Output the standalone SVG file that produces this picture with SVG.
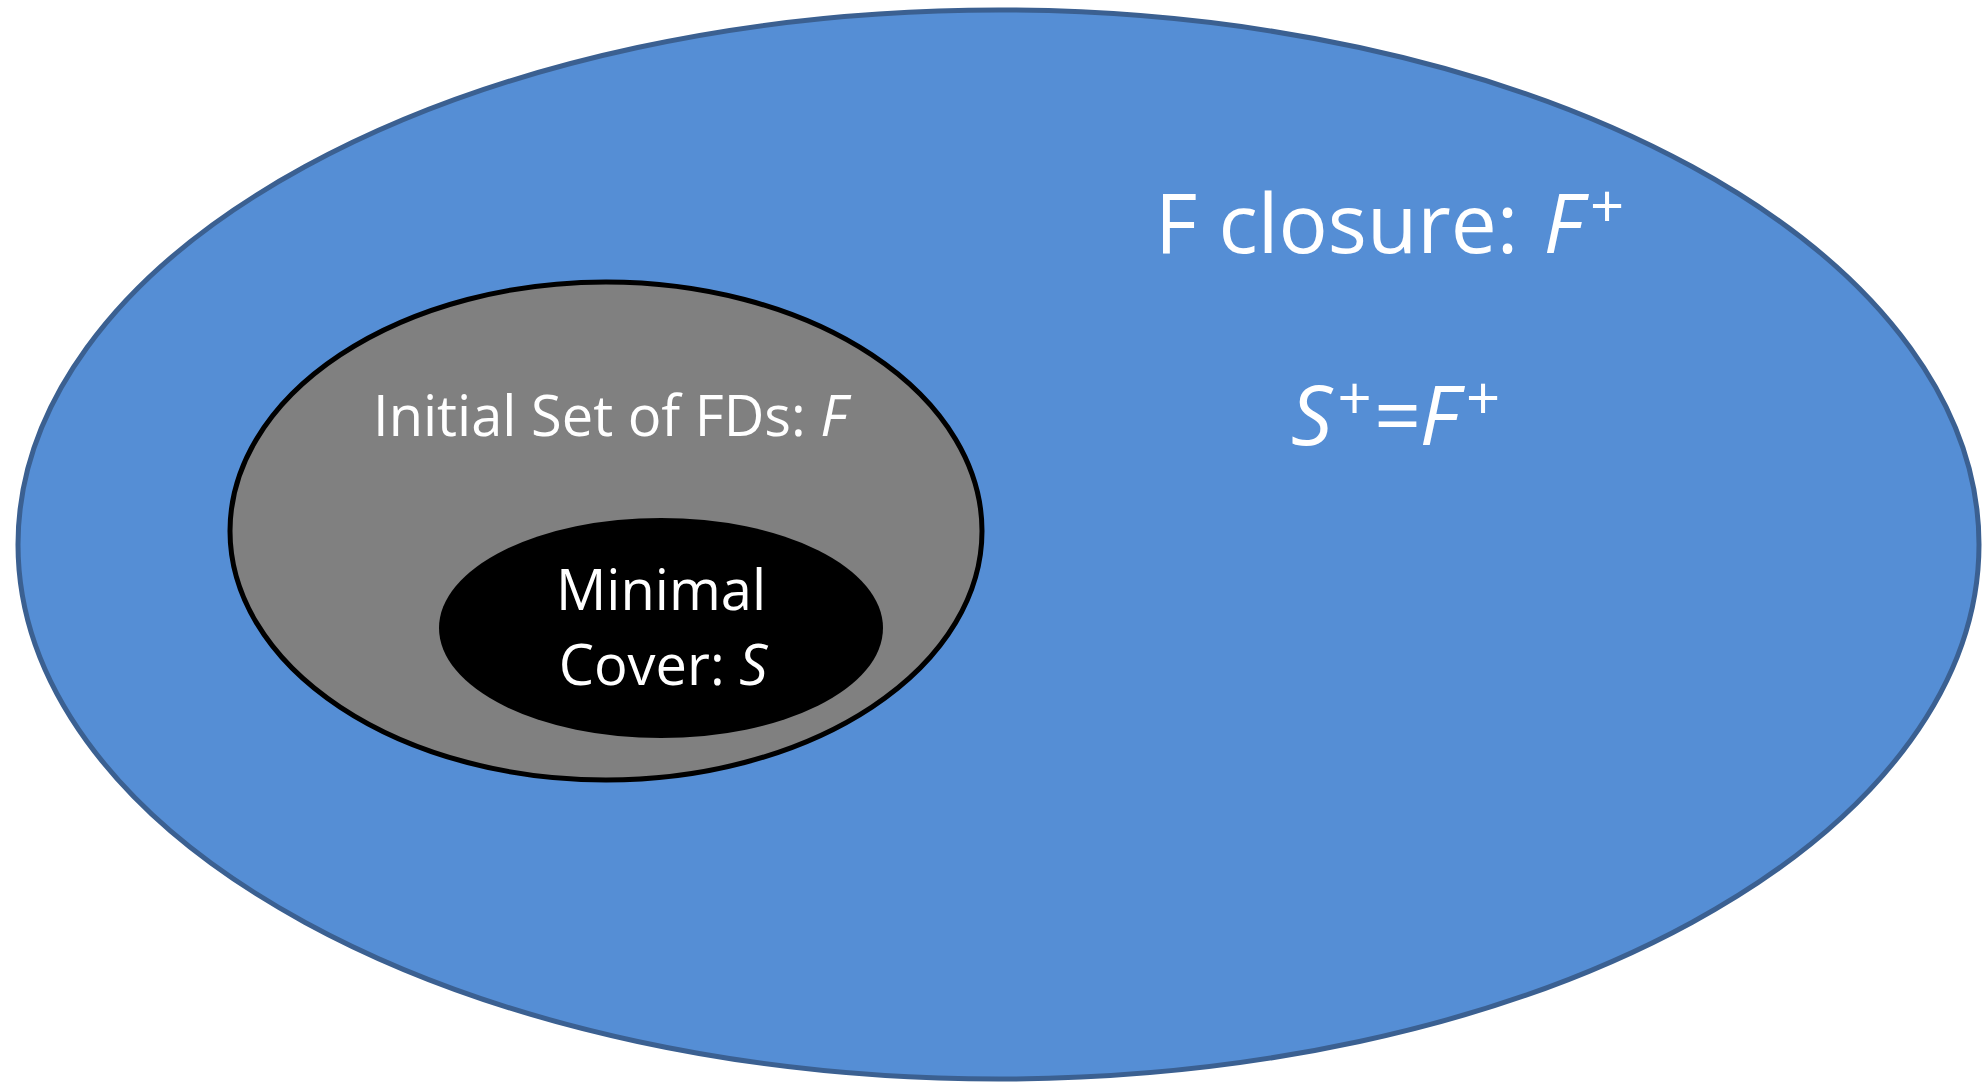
<svg xmlns="http://www.w3.org/2000/svg" width="1982" height="1084" viewBox="0 0 1982 1084">
<style>
.t{font-family:"Open Sans","Noto Sans","Liberation Sans",sans-serif;fill:#ffffff}
.big{font-size:82px}
.mid{font-size:56px}
.i{font-style:italic}
.sup{font-size:60px}
</style>
<rect width="1982" height="1084" fill="#ffffff"/>
<g id="closure">
<ellipse cx="998.5" cy="544.5" rx="980.5" ry="534.5" fill="#558ed5" stroke="#3b6091" stroke-width="5"/>
<text class="t big" x="1389" y="253" text-anchor="middle">F closure: <tspan class="i" dx="4">F</tspan><tspan class="i sup" dx="6" dy="-25">+</tspan></text>
<text class="t big i" x="1395" y="445" text-anchor="middle">S<tspan class="sup" dx="4" dy="-25">+</tspan><tspan dx="2" dy="25">=F</tspan><tspan class="sup" dx="6" dy="-25">+</tspan></text>
</g>
<g id="initial">
<ellipse cx="606" cy="531" rx="376" ry="249" fill="#808080" stroke="#000000" stroke-width="5"/>
<text class="t mid" x="610" y="436" text-anchor="middle">Initial Set of FDs: <tspan class="i">F</tspan></text>
</g>
<g id="minimal">
<ellipse cx="661" cy="628" rx="222" ry="110" fill="#000000"/>
<text class="t mid" x="661" y="610" text-anchor="middle">Minimal</text>
<text class="t mid" x="663" y="685" text-anchor="middle">Cover: <tspan class="i">S</tspan></text>
</g>
<g id="connectors"/>
</svg>
